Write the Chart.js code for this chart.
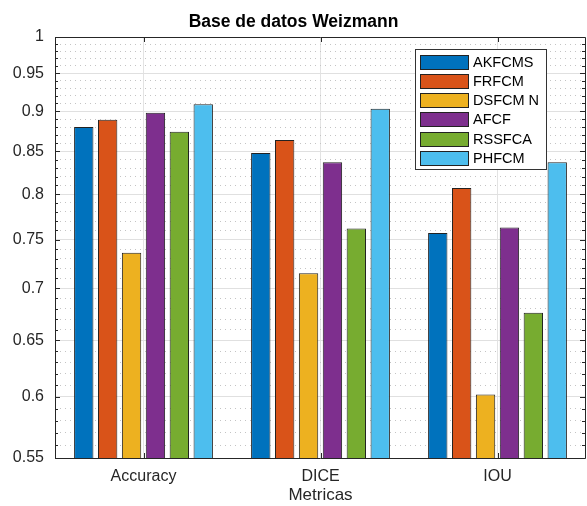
<!DOCTYPE html>
<html><head><meta charset="utf-8">
<script src="https://cdn.jsdelivr.net/npm/chart.js@4/dist/chart.umd.min.js"></script>
<style>html,body{margin:0;padding:0;background:#fff}#wrap{width:587px;height:506px}</style>
</head><body><div id="wrap"><canvas id="c" width="587" height="506"></canvas></div>
<script>
const categories = ['Accuracy', 'DICE', 'IOU'];
const seriesNames = ['AKFCMS', 'FRFCM', 'DSFCM N', 'AFCF', 'RSSFCA', 'PHFCM'];
const akfcms = [0.880, 0.848, 0.757];
const frfcm  = [0.889, 0.864, 0.807];
const dsfcmN = [0.736, 0.715, 0.602];
const afcf   = [0.898, 0.837, 0.763];
const rssfca = [0.874, 0.762, 0.676];
const phfcm  = [0.909, 0.903, 0.837];
const yTickValues = [0.55, 0.6, 0.65, 0.7, 0.75, 0.8, 0.85, 0.9, 0.95, 1];
const yTickLabels = ['0.55', '0.6', '0.65', '0.7', '0.75', '0.8', '0.85', '0.9', '0.95', '1'];
const yMin = 0.55, yMax = 1;
const seriesValues = [akfcms, frfcm, dsfcmN, afcf, rssfca, phfcm];
const colors = ['#0072BD', '#D95319', '#EDB120', '#7E2F8E', '#77AC30', '#4DBEEE'];

// minor tick positions every 0.01 (not labelled)
const minorTicks = [];
for (let i = 56; i < 100; i++) { if (i % 5 !== 0) minorTicks.push(i / 100); }

const FONT = 'Arial, "Liberation Sans", Helvetica, sans-serif';
const TXT = '#262626';

const framePlugin = {
  id: 'frame',
  afterDatasetsDraw(chart) {
    const ctx = chart.ctx, a = chart.chartArea;
    const y = chart.scales.y, x = chart.scales.x;
    ctx.save();
    ctx.strokeStyle = TXT; ctx.lineWidth = 1;
    ctx.beginPath();
    ctx.rect(Math.round(a.left) + 0.5, Math.round(a.top) + 0.5, Math.round(a.right - a.left) - 1, Math.round(a.bottom - a.top));
    ctx.stroke();
    ctx.beginPath();
    yTickValues.forEach(v => {
      const p = Math.round(y.getPixelForValue(v)) + 0.5;
      ctx.moveTo(a.left, p); ctx.lineTo(a.left + 5, p);
      ctx.moveTo(a.right - 1, p); ctx.lineTo(a.right - 6, p);
    });
    minorTicks.forEach(v => {
      const p = Math.round(y.getPixelForValue(v)) + 0.5;
      ctx.moveTo(a.left, p); ctx.lineTo(a.left + 3, p);
      ctx.moveTo(a.right - 1, p); ctx.lineTo(a.right - 4, p);
    });
    categories.forEach((c, i) => {
      const p = Math.round(x.getPixelForValue(i)) + 0.5;
      ctx.moveTo(p, a.top); ctx.lineTo(p, a.top + 5);
      ctx.moveTo(p, a.bottom); ctx.lineTo(p, a.bottom - 5);
    });
    ctx.stroke();
    ctx.restore();
  },
  afterDraw(chart) {
    const ctx = chart.ctx;
    const bx = 415, by = 49, bw = 131, bh = 120;
    ctx.save();
    ctx.fillStyle = '#fff';
    ctx.fillRect(bx, by, bw, bh);
    ctx.strokeStyle = '#333'; ctx.lineWidth = 1;
    ctx.strokeRect(bx + 0.5, by + 0.5, bw, bh);
    ctx.font = '14.5px ' + FONT;
    ctx.textBaseline = 'middle';
    ctx.textAlign = 'left';
    chart.data.datasets.forEach((ds, i) => {
      const ry = by + 5.5 + i * 19.3;
      ctx.fillStyle = ds.backgroundColor;
      ctx.fillRect(bx + 5.5, Math.round(ry) + 0.5, 48, 14);
      ctx.strokeStyle = '#222';
      ctx.strokeRect(bx + 5.5, Math.round(ry) + 0.5, 48, 14);
      ctx.fillStyle = '#000';
      ctx.fillText(ds.label, bx + 58, Math.round(ry) + 8);
    });
    ctx.restore();
  }
};

new Chart(document.getElementById('c'), {
  type: 'bar',
  data: {
    labels: categories,
    datasets: seriesNames.map((n, i) => ({
      label: n,
      data: seriesValues[i],
      backgroundColor: colors[i],
      borderColor: '#222',
      borderWidth: 1,
      categoryPercentage: 0.81,
      barPercentage: 0.81,
      yAxisID: 'y'
    }))
  },
  options: {
    responsive: false,
    animation: false,
    events: [],
    layout: { padding: 0 },
    plugins: {
      legend: { display: false },
      tooltip: { enabled: false },
      title: {
        display: true,
        text: 'Base de datos Weizmann',
        color: '#000',
        font: { family: FONT, size: 17.5, weight: 'bold', lineHeight: 1.2 },
        padding: { top: 12, bottom: 4 }
      }
    },
    scales: {
      x: {
        type: 'category',
        offset: true,
        grid: { offset: false, color: '#e3e3e3', drawTicks: false, lineWidth: 1 },
        border: { display: false },
        ticks: { color: TXT, font: { family: FONT, size: 16 }, padding: 9 },
        title: { display: true, text: 'Metricas', color: TXT, font: { family: FONT, size: 17, lineHeight: 1.2 }, padding: { top: 4, bottom: 0 } },
        afterFit(s) { s.height = 48; }
      },
      y: {
        type: 'logarithmic',
        position: 'left',
        min: yMin, max: yMax,
        afterBuildTicks(s) { s.ticks = yTickValues.map(v => ({ value: v })); },
        ticks: {
          autoSkip: false,
          color: TXT,
          font: { family: FONT, size: 16 },
          padding: 11,
          callback(v) { const i = yTickValues.indexOf(v); return i >= 0 ? yTickLabels[i] : ''; }
        },
        grid: { color: '#e0e0e0', drawTicks: false, lineWidth: 1 },
        border: { display: false },
        afterFit(s) { s.width = 55; }
      },
      y2: {
        type: 'logarithmic',
        position: 'right',
        min: yMin, max: yMax,
        afterBuildTicks(s) { s.ticks = minorTicks.map(v => ({ value: v })); },
        ticks: { display: false, autoSkip: false },
        grid: { color: '#c4c4c4', drawTicks: false, lineWidth: 1 },
        border: { display: false, dash: [1, 4] },
        afterFit(s) { s.width = 1; }
      }
    }
  },
  plugins: [framePlugin]
});
</script>
</body></html>
